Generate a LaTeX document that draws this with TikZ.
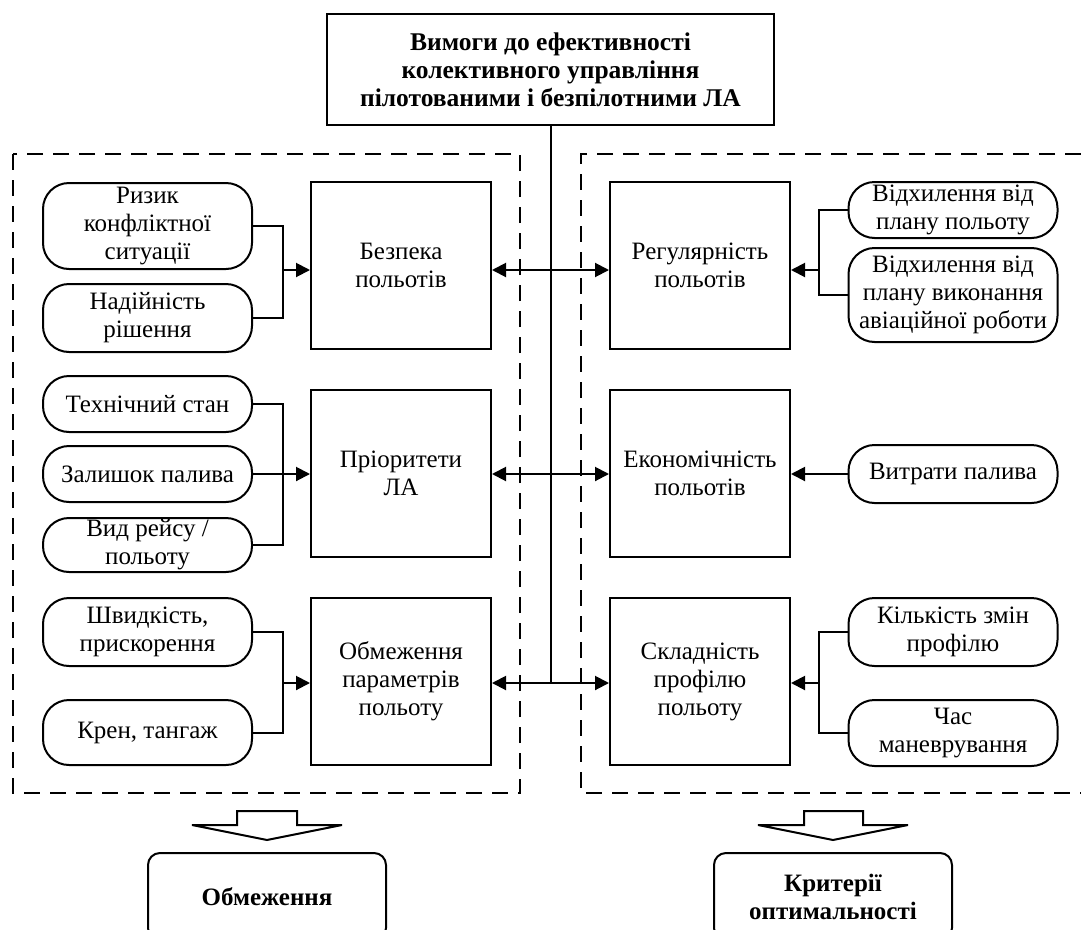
\documentclass[tikz,border=0pt]{standalone}
\usepackage{fontspec}
\setmainfont{Liberation Serif}
\usetikzlibrary{arrows.meta}

\tikzset{
  link/.style={line width=2pt},
  arr/.style={link, -{Triangle[length=14pt,width=14pt]}},
  biarr/.style={link, {Triangle[length=14pt,width=14pt]}-{Triangle[length=14pt,width=14pt]}},
  group/.style={line width=2pt, dash pattern=on 16pt off 10pt},
  factor/.style={draw, line width=2pt, rounded corners=26pt, align=center,
    inner sep=0pt, minimum width=209, font=\fontsize{25}{28}\selectfont},
  reqbox/.style={draw, line width=2pt, align=center, inner sep=0pt,
    minimum width=180, minimum height=167, font=\fontsize{25}{28}\selectfont},
  resbox/.style={draw, line width=2pt, rounded corners=12pt, align=center,
    inner sep=0pt, minimum width=238, minimum height=87,
    font=\bfseries\fontsize{25}{28}\selectfont},
  blockarrow/.style={line width=2pt, line join=miter}
}

\begin{document}
\begin{tikzpicture}[x=1pt, y=-1pt]
  \clip (0,0) rectangle (1081,929);

  % top requirement
  \node[draw, line width=2pt, align=center, inner sep=0pt, minimum width=447,
    minimum height=111, font=\bfseries\fontsize{25.5}{28}\selectfont] (top) at (550.5,69.5)
    {Вимоги до ефективності\\колективного управління\\пілотованими і безпілотними ЛА};

  % dashed groups
  \draw[group] (13,154) rectangle (520,793);
  \draw[group] (1081,154) -- (581,154) -- (581,793) -- (1081,793);

  % left factors
  \node[factor, minimum height=86] (riz) at (147.5,226) {Ризик\\конфліктної\\ситуації};
  \node[factor, minimum height=68] (nad) at (147.5,318) {Надійність\\рішення};
  \node[factor, minimum height=56] (teh) at (147.5,404) {Технічний стан};
  \node[factor, minimum height=56] (zal) at (147.5,474) {Залишок палива};
  \node[factor, minimum height=54] (vyd) at (147.5,545) {Вид рейсу /\\польоту};
  \node[factor, minimum height=68] (shv) at (147.5,632) {Швидкість,\\прискорення};
  \node[factor, minimum height=65] (kren) at (147.5,732.5) {Крен, тангаж};

  % requirement boxes
  \node[reqbox] (bez) at (401,265) {Безпека\\польотів};
  \node[reqbox] (pri) at (401,473.5) {Пріоритети\\ЛА};
  \node[reqbox] (obm) at (401,681.5) {Обмеження\\параметрів\\польоту};
  \node[reqbox] (reg) at (700,265) {Регулярність\\польотів};
  \node[reqbox] (eko) at (700,473.5) {Економічність\\польотів};
  \node[reqbox] (skl) at (700,681.5) {Складність\\профілю\\польоту};

  % right factors
  \node[factor, minimum height=56] (vid1) at (953,210) {Відхилення від\\плану польоту};
  \node[factor, minimum height=94] (vid2) at (953,295) {Відхилення від\\плану виконання\\авіаційної роботи};
  \node[factor, minimum height=58] (vytr) at (953,474) {Витрати палива};
  \node[factor, minimum height=68] (kil) at (953,632) {Кількість змін\\профілю};
  \node[factor, minimum height=66] (chas) at (953,733) {Час\\маневрування};

  % bus points
  \coordinate (b1) at (283,270);
  \coordinate (b2) at (283,474);
  \coordinate (b3) at (283,683);
  \coordinate (c1) at (819,270);
  \coordinate (c3) at (819,683);

  % left buses
  \draw[link] (riz.east) -| (b1);
  \draw[link] (nad.east) -| (b1);
  \draw[arr] (b1) -- (bez.west |- b1);
  \draw[link] (teh.east) -| (b2);
  \draw[link] (vyd.east) -| (b2);
  \draw[arr] (zal.east) -- (pri.west |- zal.east);
  \draw[link] (shv.east) -| (b3);
  \draw[link] (kren.east) -| (b3);
  \draw[arr] (b3) -- (obm.west |- b3);

  % right buses
  \draw[link] (vid1.west) -| (c1);
  \draw[link] (vid2.west) -| (c1);
  \draw[arr] (c1) -- (reg.east |- c1);
  \draw[arr] (vytr.west) -- (eko.east |- vytr.west);
  \draw[link] (kil.west) -| (c3);
  \draw[link] (chas.west) -| (c3);
  \draw[arr] (c3) -- (skl.east |- c3);

  % central trunk
  \draw[link] (top.south) -- (top.south |- b3);
  \draw[biarr] (bez.east |- b1) -- (reg.west |- b1);
  \draw[biarr] (pri.east |- b2) -- (eko.west |- b2);
  \draw[biarr] (obm.east |- b3) -- (skl.west |- b3);

  % results
  \node[resbox] (lim) at (267,896.5) {Обмеження};
  \node[resbox] (krit) at (833,896.5) {Критерії\\оптимальності};
  \draw[blockarrow] (237,811) -- (297,811) -- (297,825) -- (342,825) -- (267,840)
    -- (192,825) -- (237,825) -- cycle;
  \draw[blockarrow] (804,811) -- (863,811) -- (863,825) -- (908,825) -- (833,840)
    -- (758,825) -- (804,825) -- cycle;
\end{tikzpicture}
\end{document}
